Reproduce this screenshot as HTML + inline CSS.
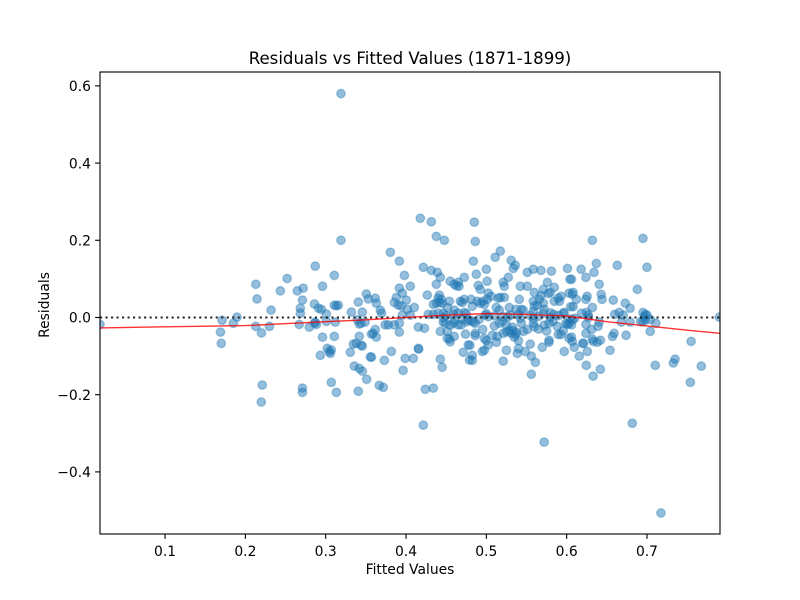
<!DOCTYPE html>
<html lang="en">
<head>
<meta charset="utf-8">
<title>Residuals vs Fitted Values (1871-1899)</title>
<style>
html,body{margin:0;padding:0;background:#fff;width:800px;height:600px;overflow:hidden}
svg{display:block;font-family:"DejaVu Sans","Liberation Sans",sans-serif;fill:#000}
</style>
</head>
<body>
<svg id="chart" xmlns="http://www.w3.org/2000/svg" width="800" height="600" viewBox="0 0 800 600">
  <defs><clipPath id="plot-clip"><rect x="100" y="72" width="620" height="462"/></clipPath></defs>
  <rect x="0" y="0" width="800" height="600" fill="#fff"/>
  <rect x="100" y="72" width="620" height="462" fill="#fff"/>
  <g id="points" clip-path="url(#plot-clip)"></g>
  <g id="lines" clip-path="url(#plot-clip)"></g>
  <g id="ticks"></g>
  <rect x="100" y="72" width="620" height="462" fill="none" stroke="#000" stroke-width="1.11"/>
  <text x="410" y="64" text-anchor="middle" font-size="16.6">Residuals vs Fitted Values (1871-1899)</text>
  <text x="410" y="574" text-anchor="middle" font-size="13.89">Fitted Values</text>
  <text x="0" y="0" transform="translate(49,305) rotate(-90)" text-anchor="middle" font-size="13.89">Residuals</text>
</svg>
<script>
const xTicks = [0.1, 0.2, 0.3, 0.4, 0.5, 0.6, 0.7];
const yTicks = [-0.4, -0.2, 0, 0.2, 0.4, 0.6];
const xDomain = [0.019, 0.7909];
const yDomain = [-0.5609, 0.636];
const referenceLevel = [0];
const lowessFitted = [0.019, 0.1, 0.2, 0.3, 0.35, 0.4, 0.45, 0.5, 0.55, 0.6, 0.65, 0.7, 0.75, 0.7909];
const lowessResidual = [-0.027, -0.024, -0.021, -0.011, -0.006, 0, 0.006, 0.01, 0.008, 0.004, -0.011, -0.022, -0.033, -0.041];
const fitted = [
.019,.171,.1896,.185,.169,.170,.213,.2145,.213,.220,
.221,.2198,.230,.232,.2435,.252,.2647,.272,.271,.2684,
.2684,.267,.2796,.271,.271,.287,.286,.291,.2946,.296,
.3008,.287,.2884,.286,.3008,.296,.2933,.302,.307,.3045,
.3057,.3107,.3107,.3132,.3157,.312,.3107,.307,.3132,.332,
.3406,.3456,.3506,.353,.3394,.3418,.344,.349,.3418,.3344,
.338,.344,.3456,.3306,.3556,.3356,.3418,.3456,.351,.3406,
.319,.319,.357,.4178,.4315,.4377,.4477,.3805,.3917,.398,
.4215,.4315,.439,.4427,.455,.460,.465,.466,.463,.4725,
.4377,.4053,.3917,.3954,.388,.3854,.4003,.3904,.394,.4016,
.4103,.4265,.4415,.440,.444,.4415,.4377,.434,.445,.454,
.4676,.470,.4725,.460,.4514,.4277,.434,.440,.4465,.4725,
.465,.459,.3617,.363,.368,.3695,.3954,.4053,.3617,.359,
.363,.374,.378,.3854,.3917,.3917,.4153,.423,.4153,.4158,
.3817,.357,.373,.399,.409,.3964,.3667,.3717,.424,.434,
.4215,.4427,.445,.4713,.4775,.479,.454,.4514,.455,.4427,
.4514,.460,.4465,.449,.4465,.459,.465,.4686,.474,.4775,
.4755,.485,.4862,.4838,.511,.5174,.531,.536,.5336,.551,
.5585,.568,.581,.601,.4875,.50,.501,.490,.4925,.5273,
.521,.5223,.5423,.551,.576,.5846,.571,.5796,.577,.5597,
.541,.5174,.5223,.515,.5024,.506,.501,.496,.4925,.4887,
.4975,.481,.4825,.5124,.5162,.5286,.5435,.546,.537,.5585,
.5634,.568,.566,.571,.5597,.572,.5585,.5896,.593,.5846,
.591,.597,.603,.604,.571,.584,.4987,.5024,.521,.527,
.4838,.481,.4862,.4862,.4862,.4955,.491,.4975,.5,.5024,
.5075,.5136,.5124,.5162,.521,.525,.5286,.5323,.5336,.531,
.536,.5348,.5378,.54,.54,.5385,.525,.521,.4975,.495,
.4825,.4825,.4796,.5485,.5547,.556,.561,.556,.5696,.578,
.578,.597,.572,.551,.546,.5423,.5435,.5585,.5585,.5597,
.572,.578,.583,.5796,.5884,.5896,.593,.5957,.599,.601,
.603,.603,.5957,.632,.695,.637,.663,.700,.618,.634,
.624,.606,.6405,.688,.643,.644,.6255,.624,.608,.607,
.612,.608,.605,.632,.658,.673,.679,.6597,.6655,.6705,
.695,.698,.6966,.700,.79,.6185,.6247,.627,.604,.6075,
.610,.627,.606,.624,.624,.631,.6405,.639,.659,.657,
.674,.704,.711,.698,.692,.695,.704,.679,.668,.606,
.607,.6095,.62,.621,.6157,.6257,.632,.633,.638,.642,
.654,.6244,.642,.633,.755,.7103,.735,.7328,.7676,.754,
.6817,.7174,.5,.51,.53,.52,.54,.555,.565,.47,
.46,.45,.51,.525,.565,.575,.58,.59,.455,.475
];
const residuals = [
-.018,-.007,.001,-.015,-.038,-.067,.086,.048,-.023,-.040,
-.175,-.219,-.023,.019,.069,.101,.069,.076,.045,.024,
.011,-.018,-.025,-.183,-.194,.133,.035,.024,.021,.081,
.009,-.012,-.018,-.015,-.010,-.051,-.098,-.080,-.084,-.088,
-.093,.109,.032,.030,.032,-.012,-.049,-.168,-.194,.014,
.040,.014,.061,.048,-.006,-.017,-.015,-.012,-.049,-.069,
-.067,-.072,-.074,-.090,-.102,-.126,-.132,-.139,-.160,-.191,
.580,.200,-.043,.257,.248,.210,.200,.169,.146,.109,
.130,.122,.117,.104,.094,.086,.091,.081,.082,.104,
.086,.081,.076,.063,.052,.039,.045,.032,.030,.021,
.026,.058,.058,.050,.047,.039,.037,.034,.037,.042,
.042,.039,.047,.019,.026,.008,.008,.011,.011,.013,
.011,.008,.050,.037,.019,.011,.006,.006,-.031,-.041,
-.051,-.019,-.019,-.019,-.015,-.038,-.025,-.028,-.080,-.082,
-.088,-.103,-.111,-.106,-.106,-.137,-.176,-.181,-.186,-.183,
-.279,-.108,-.129,-.090,-.071,-.110,-.056,-.054,-.063,-.036,
-.036,-.049,-.012,-.015,-.001,-.015,-.019,-.019,-.043,-.006,
-.011,.247,.197,.146,.156,.172,.148,.135,.127,.117,
.125,.122,.120,.127,.112,.125,.094,.083,.073,.104,
.091,.081,.081,.081,.091,.078,.073,.065,.062,.065,
.047,.052,.052,.050,.063,.055,.047,.042,.037,.042,
.034,.047,.029,.026,.019,.026,.021,.019,.021,.042,
.032,.057,.047,.037,.029,.021,.016,.050,.055,.042,
.042,.013,.063,.099,.011,.008,.006,.002,.002,.002,
-.012,-.008,-.015,-.041,-.047,-.031,-.005,-.054,-.060,-.071,
-.046,-.049,-.064,-.015,-.041,-.037,-.034,-.025,-.034,-.041,
-.044,-.051,-.039,-.060,-.080,-.093,-.085,-.113,-.085,-.088,
-.098,-.111,-.072,-.088,-.069,-.100,-.116,-.147,-.077,-.059,
-.064,-.088,-.323,-.031,-.036,-.002,-.015,-.002,-.015,-.024,
-.020,-.015,-.010,.000,-.023,-.044,-.044,-.034,-.015,-.018,
-.015,-.054,.011,.200,.205,.140,.135,.130,.125,.117,
.104,.099,.086,.073,.060,.047,.055,.047,.065,.060,
.047,.028,.028,.026,.045,.037,.024,.008,.013,.006,
.013,.008,.002,.006,.001,.011,.013,.006,-.004,-.006,
-.002,.000,-.019,-.018,-.041,-.031,-.012,-.023,-.041,-.049,
-.046,-.036,-.015,-.006,-.011,-.011,-.005,-.012,-.012,-.051,
-.062,-.077,-.067,-.067,-.100,-.088,-.056,-.062,-.064,-.059,
-.085,-.124,-.134,-.152,-.062,-.124,-.108,-.118,-.126,-.168,
-.274,-.5065,.01,.004,.006,-.01,.008,.005,.003,-.004,
-.008,.005,-.022,-.02,-.03,-.035,.012,.005,-.02,.01
];

const NS = 'http://www.w3.org/2000/svg';
const plot = {left: 100, right: 720, top: 72, bottom: 534};
function xScale(v) {
  return plot.left + (v - xDomain[0]) / (xDomain[1] - xDomain[0]) * (plot.right - plot.left);
}
function yScale(v) {
  return plot.bottom - (v - yDomain[0]) / (yDomain[1] - yDomain[0]) * (plot.bottom - plot.top);
}
function fmt(v) {
  return (v < 0 ? '\u2212' : '') + Math.abs(v).toFixed(1);
}
function make(tag, attrs, parent) {
  const el = document.createElementNS(NS, tag);
  for (const k in attrs) el.setAttribute(k, attrs[k]);
  parent.appendChild(el);
  return el;
}

const pointsLayer = document.getElementById('points');
fitted.forEach(function (fv, i) {
  const c = make('circle', {cx: xScale(fv).toFixed(2), cy: yScale(residuals[i]).toFixed(2), r: 4.25, fill: '#1f77b4', 'fill-opacity': 0.48, stroke: '#1f77b4', 'stroke-opacity': 0.36, 'stroke-width': 1.39}, pointsLayer);
  
  
});

const linesLayer = document.getElementById('lines');
const zero = make('line', {x1: plot.left, x2: plot.right, y1: yScale(referenceLevel[0]), y2: yScale(referenceLevel[0]), stroke: '#222', 'stroke-width': 2.08, 'stroke-dasharray': '2.08 3.43'}, linesLayer);


const smooth = make('polyline', {points: lowessFitted.map(function (v, i) { return xScale(v).toFixed(2) + ',' + yScale(lowessResidual[i]).toFixed(2); }).join(' '), fill: 'none', stroke: '#f00', 'stroke-opacity': 0.8, 'stroke-width': 1.39}, linesLayer);



const ticksLayer = document.getElementById('ticks');
xTicks.forEach(function (v) {
  const x = xScale(v);
  const t = make('line', {x1: x, x2: x, y1: plot.bottom, y2: plot.bottom + 4.86, stroke: '#000', 'stroke-width': 1.11}, ticksLayer);
  
  
  const l = make('text', {x: x, y: 556, 'text-anchor': 'middle', 'font-size': 13.89}, ticksLayer);
  l.textContent = fmt(v);
  
  
});
yTicks.forEach(function (v) {
  const y = yScale(v);
  const t = make('line', {x1: plot.left - 4.86, x2: plot.left, y1: y, y2: y, stroke: '#000', 'stroke-width': 1.11}, ticksLayer);
  
  
  const l = make('text', {x: 91, y: y + 5.2, 'text-anchor': 'end', 'font-size': 13.89}, ticksLayer);
  l.textContent = fmt(v);
  
  
});
</script>
</body>
</html>
